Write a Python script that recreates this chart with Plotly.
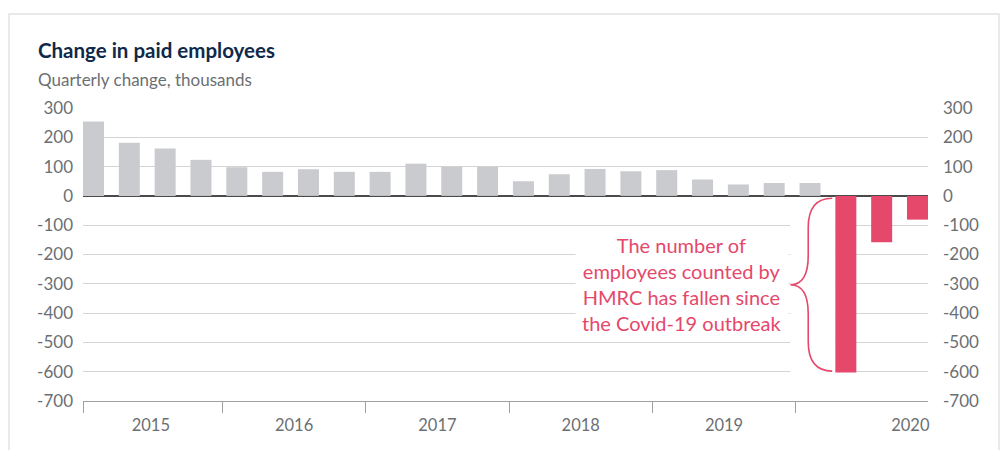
import plotly.graph_objects as go

# ---- data ----
quarters = ["2015 Q1", "2015 Q2", "2015 Q3", "2015 Q4",
            "2016 Q1", "2016 Q2", "2016 Q3", "2016 Q4",
            "2017 Q1", "2017 Q2", "2017 Q3", "2017 Q4",
            "2018 Q1", "2018 Q2", "2018 Q3", "2018 Q4",
            "2019 Q1", "2019 Q2", "2019 Q3", "2019 Q4",
            "2020 Q1", "2020 Q2", "2020 Q3", "2020 Q4"]
change = [254, 181, 162, 123, 98, 82, 91, 82,
          82, 110, 99, 99, 50, 74, 92, 84,
          88, 56, 39, 44, 44, -603, -158, -81]
years = ["2015", "2016", "2017", "2018", "2019", "2020"]
y_ticks = [300, 200, 100, 0, -100, -200, -300, -400, -500, -600, -700]
y_tick_text = [str(v) for v in y_ticks]

FONT = "Lato"
GRAY_BAR = "#c9cbce"
RED = "#e5486b"
TXT = "#6b6f73"
GRID = "#d4d4d4"

x = list(range(len(change)))
colors = [RED if v < 0 else GRAY_BAR for v in change]

fig = go.Figure()
fig.add_trace(go.Bar(x=x, y=change, marker=dict(color=colors, line_width=0),
                     hovertext=quarters, width=0.586))
# invisible trace to carry the right-hand axis
fig.add_trace(go.Scatter(x=[x[0]], y=[change[0]], yaxis="y2", mode="markers",
                         marker=dict(opacity=0), hoverinfo="skip", showlegend=False))

n = len(change)
first_neg = next(i for i, v in enumerate(change) if v < 0)
min_val = min(change)

year_starts = [4 * k for k in range(len(years))]
label_pos = [s + 1.6 for s in year_starts[:-1]] + [n - 1 - 0.2]
boundaries = [-0.293] + [s - 0.4 for s in year_starts[1:]]

axis_font = dict(family=FONT, size=17, color=TXT)

fig.update_layout(
    width=1001, height=450,
    margin=dict(l=83, r=73, t=108, b=49),
    paper_bgcolor="white", plot_bgcolor="white",
    showlegend=False,
    font=dict(family=FONT, color=TXT),
    bargap=0.414,
    xaxis=dict(range=[-0.293, n - 1 + 0.293], showgrid=False, zeroline=False,
               showline=True, linecolor="#a0a0a0", linewidth=1,
               tickmode="array", tickvals=label_pos, ticktext=years,
               ticks="", tickfont=dict(family=FONT, size=16.5, color=TXT),
               ticklabelstandoff=9,
               minor=dict(tickmode="array", tickvals=boundaries, ticks="outside",
                          ticklen=11, tickcolor="#a0a0a0", tickwidth=1, showgrid=False)),
    yaxis=dict(range=[-700, 300], tickmode="array", tickvals=y_ticks, ticktext=y_tick_text,
               showgrid=True, gridcolor=GRID, gridwidth=1.3,
               zeroline=True, zerolinecolor="#4a4a4a", zerolinewidth=1.6,
               ticks="", tickfont=axis_font, ticklabelstandoff=9),
    yaxis2=dict(range=[-700, 300], overlaying="y", side="right", tickmode="array",
                tickvals=y_ticks, ticktext=y_tick_text, showgrid=False, zeroline=False, ticks="",
                tickfont=axis_font, ticklabelstandoff=14),
)

# outer frame
fig.add_shape(type="rect", xref="paper", yref="paper",
              x0=(9 - 83) / 845, x1=(999 - 83) / 845, y0=-0.5, y1=(401 - 14) / 293,
              line=dict(color="#e2e2e2", width=1.5), fillcolor="rgba(0,0,0,0)", layer="below")

# white gap behind brace
fig.add_shape(type="rect", xref="x", yref="y", x0=first_neg - 1.55, x1=first_neg - 0.293,
              y0=-50, y1=-650, line_width=0, fillcolor="white", layer="between")

# curly brace spanning the big fall
xe = first_neg - 0.38   # brace ends
xm = first_neg - 1.05   # vertical stem
xt = first_neg - 1.55   # tip
yt, yb = -8, min_val + 5
ym = (yt + yb) / 2
r = 100
path = (f"M {xe},{yt} Q {xm},{yt} {xm},{yt - r} L {xm},{ym + r} "
        f"Q {xm},{ym} {xt},{ym} Q {xm},{ym} {xm},{ym - r} "
        f"L {xm},{yb + r} Q {xm},{yb} {xe},{yb}")
fig.add_shape(type="path", path=path, xref="x", yref="y",
              line=dict(color=RED, width=1.6), layer="above")

# annotation text
fig.add_annotation(x=16.42, y=-300, xref="x", yref="y",
                   text="The number of<br>employees counted by<br>HMRC has fallen since<br>the Covid-19 outbreak",
                   showarrow=False, align="center", bgcolor="white", borderpad=6,
                   font=dict(family=FONT, size=20, color=RED))

# title & subtitle
fig.add_annotation(x=(36 - 83) / 845, y=(401 - 50) / 293, xref="paper", yref="paper",
                   xanchor="left", yanchor="middle", showarrow=False,
                   text="<b>Change in paid employees</b>",
                   font=dict(family=FONT, size=20.5, color="#10294a"))
fig.add_annotation(x=(36 - 83) / 845, y=(401 - 79) / 293, xref="paper", yref="paper",
                   xanchor="left", yanchor="middle", showarrow=False,
                   text="Quarterly change, thousands",
                   font=dict(family=FONT, size=17, color=TXT))

fig.write_html("out.html")
